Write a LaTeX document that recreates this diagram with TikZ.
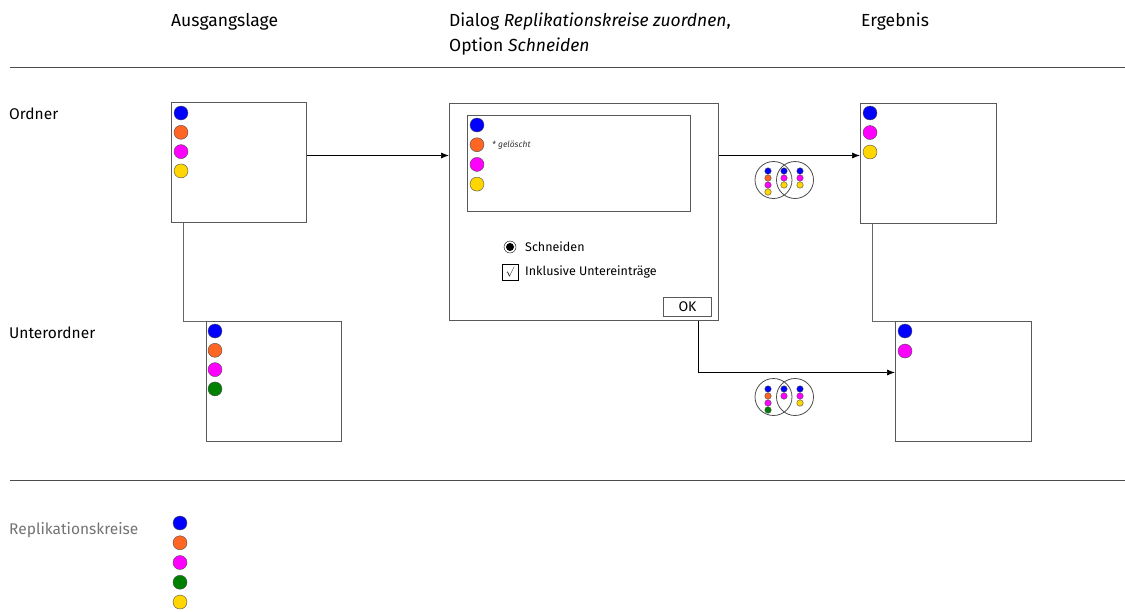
\documentclass[tikz,border=0pt]{standalone}
\usepackage{fontspec}
\setmainfont{Fira Sans}
\usetikzlibrary{arrows.meta}
\definecolor{rkblue}{RGB}{0,0,255}
\definecolor{rkorange}{RGB}{255,102,36}
\definecolor{rkmagenta}{RGB}{255,0,255}
\definecolor{rkgreen}{RGB}{0,128,0}
\definecolor{rkyellow}{RGB}{255,214,0}
\tikzset{
  box/.style={draw=black!65, line width=1pt, minimum width=135pt, minimum height=120pt, inner sep=0, anchor=north west},
  rk/.style={circle, draw=black!70, fill=#1, minimum size=14pt, inner sep=0},
  mini/.style={circle, draw=black!70, line width=0.4pt, fill=#1, minimum size=6.5pt, inner sep=0},
  arr/.style={-{Latex[length=8pt,width=6pt]}, line width=0.7pt},
  tree/.style={draw=black!60, line width=1pt},
  head/.style={inner sep=0, anchor=base west, font=\fontsize{17.5}{21}\selectfont},
  txt/.style={inner sep=0, anchor=base west, font=\fontsize{15.5}{18}\selectfont},
  small/.style={inner sep=0, font=\fontsize{12.5}{15}\selectfont}
}
\begin{document}
\begin{tikzpicture}[x=1pt,y=-1pt]
\useasboundingbox (0,0) rectangle (1125,611);
\node[head] (h1) at (171,26) {Ausgangslage};
\node[head] (h2) at (449,26) {Dialog \textit{Replikationskreise zuordnen},};
\node[head] (h2b) at (449,51) {Option \textit{Schneiden}};
\node[head] (h3) at (861,26) {Ergebnis};
\draw [black!70] (10,67)--(1125,67);
\draw [black!70] (10,480)--(1125,480);
\node[txt] (r1) at (9,119) {Ordner};
\node[txt] (r2) at (9,338) {Unterordner};
\node[txt, text=black!55] (r3) at (9,534) {Replikationskreise};

\node[box] (ord) at (171,102) {};
\node[box] (unt) at (206,321) {};
\draw [tree] ([xshift=12pt]ord.south west) |- (unt.north west);
\foreach \c [count=\i from 0] in {rkblue,rkorange,rkmagenta,rkyellow}
  \node[rk=\c] at (181,113+19.3*\i) {};
\foreach \c [count=\i from 0] in {rkblue,rkorange,rkmagenta,rkgreen}
  \node[rk=\c] at (215,331+19.3*\i) {};

\node[box, minimum width=269pt, minimum height=217pt] (dlg) at (449,103) {};
\node[box, minimum width=223pt, minimum height=96pt] (lst) at (467,115) {};
\foreach \c [count=\i from 0] in {rkblue,rkorange,rkmagenta,rkyellow}
  \node[rk=\c] at (477,125+19.7*\i) {};
\node[anchor=west, inner sep=0, font=\fontsize{8.5}{10}\selectfont\itshape, text=black!80] (del) at (492,145) {* gelöscht};
\draw (510,247) circle[radius=6pt];
\fill (510,247) circle[radius=4pt];
\node[small, anchor=west] (cut) at (525,247) {Schneiden};
\node[draw, line width=0.8pt, minimum size=16pt, inner sep=0] (chk) at (510,272) {$\surd$};
\node[small, anchor=west] (sub) at (525,272) {Inklusive Untereinträge};
\node[box, font=\fontsize{14}{16}\selectfont, minimum width=48pt, minimum height=19pt] (ok) at (663,297) {OK};

\node[box, minimum width=136pt, minimum height=120pt] (erg) at (860,103) {};
\node[box, minimum width=136pt, minimum height=120pt] (ergU) at (895,321) {};
\draw [tree] ([xshift=12pt]erg.south west) |- (ergU.north west);
\foreach \c [count=\i from 0] in {rkblue,rkmagenta,rkyellow}
  \node[rk=\c] at (870,113+19.5*\i) {};
\foreach \c [count=\i from 0] in {rkblue,rkmagenta}
  \node[rk=\c] at (905,331+20*\i) {};

\draw [arr] ([yshift=7pt]ord.east) -- ([yshift=7pt]ord.east -| dlg.west);
\draw [arr] ([yshift=8pt]erg.west -| dlg.east) -- ([yshift=8pt]erg.west);
\draw [arr] ([xshift=-21pt]dlg.south east) |- ([yshift=9pt]ergU.west);

\draw [black!70, line width=0.8pt] (773.5,180) circle[radius=18.5pt] (795,180) circle[radius=18.5pt];
\foreach \c [count=\i from 0] in {rkblue,rkorange,rkmagenta,rkyellow}
  \node[mini=\c] at (768,171+7*\i) {};
\foreach \c [count=\i from 0] in {rkblue,rkmagenta,rkyellow}
  {\node[mini=\c] at (784,171+7*\i) {};
   \node[mini=\c] at (800,171+7*\i) {};}

\draw [black!70, line width=0.8pt] (773.5,397) circle[radius=18.5pt] (795,397) circle[radius=18.5pt];
\foreach \c [count=\i from 0] in {rkblue,rkorange,rkmagenta,rkgreen}
  \node[mini=\c] at (768,389+7*\i) {};
\foreach \c [count=\i from 0] in {rkblue,rkmagenta}
  \node[mini=\c] at (784,389+7*\i) {};
\foreach \c [count=\i from 0] in {rkblue,rkmagenta,rkyellow}
  \node[mini=\c] at (800,389+7*\i) {};

\foreach \c [count=\i from 0] in {rkblue,rkorange,rkmagenta,rkgreen,rkyellow}
  \node[rk=\c] at (180,523+19.75*\i) {};
\end{tikzpicture}
\end{document}
